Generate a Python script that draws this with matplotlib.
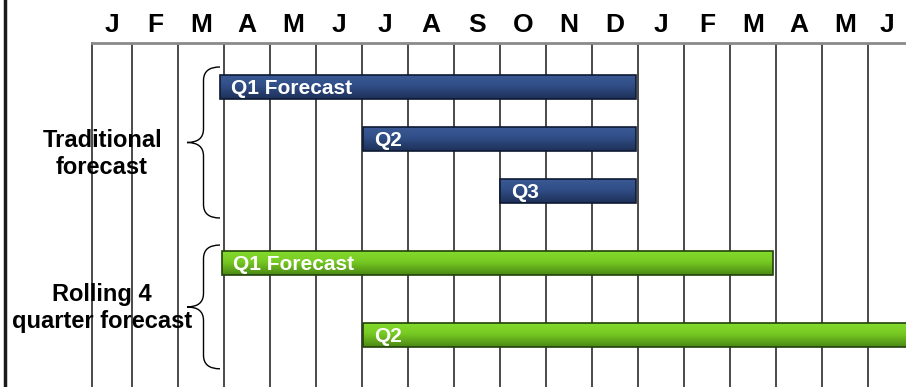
import numpy as np
import matplotlib.pyplot as plt
import matplotlib.colors as mcolors
from matplotlib.path import Path
from matplotlib.patches import PathPatch, Rectangle
from matplotlib.lines import Line2D

# month columns across the timeline (18 months shown)
months = ['J', 'F', 'M', 'A', 'M', 'J', 'J', 'A', 'S', 'O', 'N', 'D',
          'J', 'F', 'M', 'A', 'M', 'J']

# traditional forecast bars (start / end in months)
trad_labels = ['Q1 Forecast', 'Q2', 'Q3']
trad_start = [2.92, 6.02, 9.0]
trad_end = [11.96, 11.96, 11.96]

# rolling 4 quarter forecast bars
roll_labels = ['Q1 Forecast', 'Q2']
roll_start = [2.96, 6.02]
roll_end = [14.93, 18.5]

plt.rcParams['font.family'] = ['Liberation Sans', 'DejaVu Sans']

W, H = 906, 387
fig = plt.figure(figsize=(W / 100, H / 100), dpi=100)
ax = fig.add_axes([92 / W, 0, 1 - 92 / W, 1 - 43 / H])

XMIN, XMAX = 0.13, 17.83
YTOP, YBOT = -0.846, 5.77
bar_h = 0.46
trad_y = np.arange(len(trad_labels))
roll_y = np.array([3.385, 4.77])

# top, middle, bottom, edge
BLUE = ['#3a5994', '#304d86', '#1d2f56', '#0e1a33']
GREEN = ['#84da2c', '#76c922', '#4a8614', '#23420a']


def draw_bar(x0, x1, yc, cols, label, n=24):
    top, mid, bot, edge = [np.array(mcolors.to_rgb(c)) for c in cols]
    # gradient drawn as thin horizontal strips, top (light) to bottom (dark)
    t = (np.arange(n) + 0.5) / n
    for ti in t:
        if ti < 0.45:
            c = top + (mid - top) * (ti / 0.45)
        else:
            c = mid + (bot - mid) * ((ti - 0.45) / 0.55)
        ys = yc - bar_h / 2 + ti * bar_h
        ax.barh(ys, x1 - x0, left=x0, height=bar_h / n * 1.05, color=c,
                lw=0, zorder=3)
    ax.add_patch(Rectangle((x0, yc - bar_h / 2), x1 - x0, bar_h, fill=False,
                           ec=edge, lw=1.2, zorder=4))
    ax.text(x0 + 0.24, yc + 0.02, label, color='white', fontsize=15,
            fontweight='bold', ha='left', va='center', zorder=5)


def brace(x_tip, x_end, y0, y1, r=0.26):
    xs = (x_tip + x_end) / 2
    ym = (y0 + y1) / 2
    verts = [(x_end, y0), (xs, y0), (xs, y0 + r), (xs, ym - r), (xs, ym),
             (x_tip, ym), (xs, ym), (xs, ym + r), (xs, y1 - r), (xs, y1),
             (x_end, y1)]
    codes = [Path.MOVETO, Path.CURVE3, Path.CURVE3, Path.LINETO, Path.CURVE3,
             Path.CURVE3, Path.CURVE3, Path.CURVE3, Path.LINETO, Path.CURVE3,
             Path.CURVE3]
    ax.add_patch(PathPatch(Path(verts, codes), fill=False, ec='black', lw=1.0,
                           zorder=2, clip_on=False))


# vertical month gridlines
for m in range(1, len(months)):
    ax.axvline(m, color='#2b2b2b', lw=1.2, zorder=1)

for s, e, y, lab in zip(trad_start, trad_end, trad_y, trad_labels):
    draw_bar(s, e, y, BLUE, lab)
for s, e, y, lab in zip(roll_start, roll_end, roll_y, roll_labels):
    draw_bar(s, e, y, GREEN, lab)

brace(2.196, 2.913, trad_y[0] - 0.385, trad_y[-1] + 0.52)
brace(2.196, 2.913, roll_y[0] - 0.345, roll_y[-1] + 0.65)

ax.text(0.35, 1.29, 'Traditional\nforecast', fontsize=17, fontweight='bold',
        ha='center', va='center', multialignment='center', zorder=6)
ax.text(0.35, 4.25, 'Rolling 4\nquarter forecast', fontsize=17, fontweight='bold',
        ha='center', va='center', multialignment='center', zorder=6)

# month letters on top
edges = np.arange(len(months) + 1, dtype=float)
centers = (np.maximum(edges[:-1], XMIN) + np.minimum(edges[1:], XMAX)) / 2
ax.xaxis.tick_top()
ax.set_xticks(centers)
ax.set_xticklabels(months, fontsize=19, fontweight='bold')
ax.tick_params(axis='x', length=0, pad=4)
ax.set_yticks([])

for side in ['right', 'bottom']:
    ax.spines[side].set_visible(False)
ax.spines['top'].set_color('#8a8a8a')
ax.spines['top'].set_linewidth(2)
ax.spines['left'].set_color('#2b2b2b')
ax.spines['left'].set_linewidth(1.2)

ax.set_xlim(XMIN, XMAX)
ax.set_ylim(YBOT, YTOP)

fig.add_artist(Line2D([4.5 / W, 4.5 / W], [0, 1], transform=fig.transFigure,
                      color='#1a1a1a', lw=2.5))

fig.savefig('out.png', dpi=100)
